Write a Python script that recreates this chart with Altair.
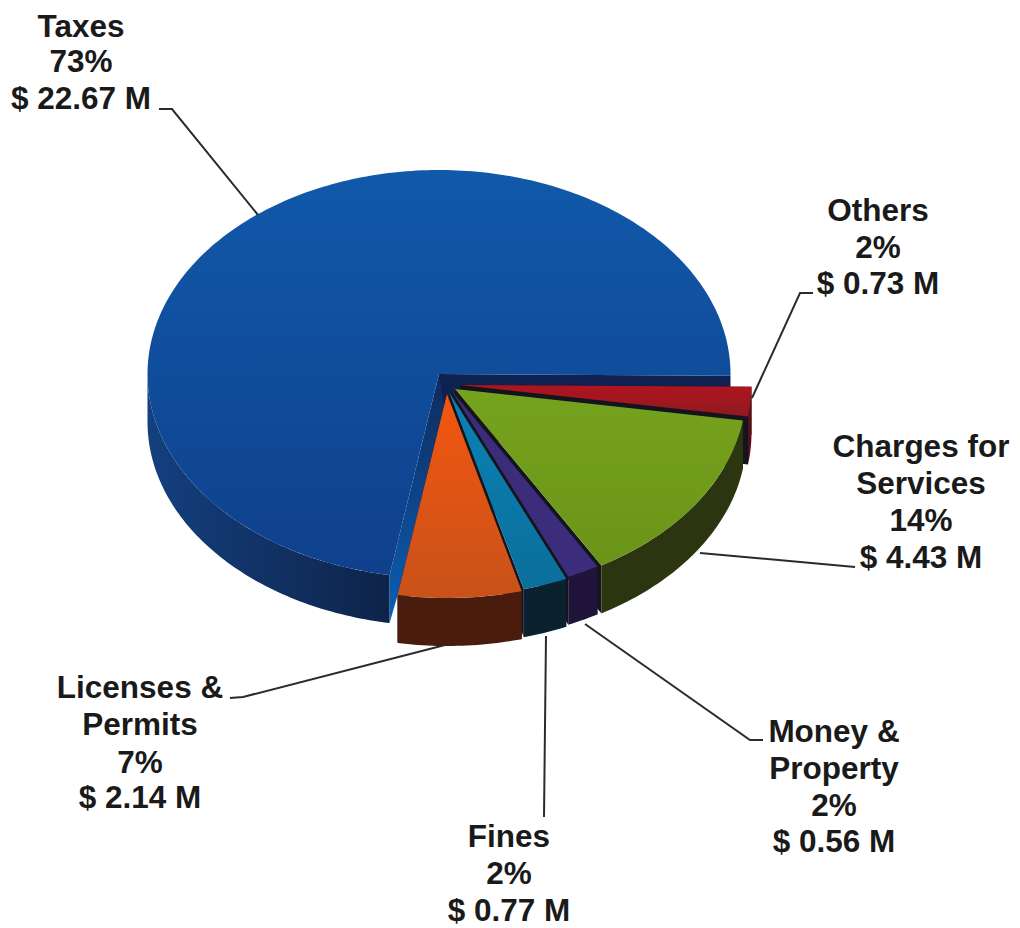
import math
import altair as alt
import pandas as pd

# ---- values ----
categories = ["Others", "Charges for Services", "Money & Property", "Fines", "Licenses & Permits", "Taxes"]
amounts = [0.73, 4.43, 0.56, 0.77, 2.14, 22.67]
percents = [2, 14, 2, 2, 7, 73]
name_lines = [["Others"], ["Charges for", "Services"], ["Money &", "Property"], ["Fines"], ["Licenses &", "Permits"], ["Taxes"]]

# ---- layout / style (not data) ----
RX, RY, DEPTH = 291.5, 204, 48
START = 0.5
centers = [(460, 385), (455, 389), (451, 390), (449, 392), (447, 394), (439, 374)]


def GRAD(a, b, v=True):
    return alt.LinearGradient(
        gradient="linear",
        stops=[alt.GradientStop(color=a, offset=0), alt.GradientStop(color=b, offset=1)],
        x1=0, y1=0, x2=0 if v else 1, y2=1 if v else 0)


top_fill = [GRAD("#b0141f", "#8f1a20"), GRAD("#76a31e", "#6a9418"), "#3c2c7c", GRAD("#0a82b4", "#0b6f9c"),
            GRAD("#f2560f", "#c9521a"), GRAD("#1159aa", "#0f408c")]
side_fill = ["#5a0f18", "#2b3510", "#20143a", "#0b2130", "#4a1c0e", GRAD("#14407f", "#0e2349", False)]
anchors = [(878, [221, 258, 294]), (921, [457, 494, 531, 568]), (834, [742, 779, 816, 852]),
           (509, [847, 884, 921]), (140, [698, 735, 773, 808]), (81, [36.6, 72, 109])]
leaders = [[(813, 293), (800, 293), (752, 398)], [(855, 567), (700, 553)],
           [(763, 740), (750, 740), (585, 624)], [(544, 817), (546, 636)],
           [(230, 698), (243, 697), (445, 645)], [(159, 109), (172, 109), (258, 215)]]


def pt(c, t, dy=0):
    a = math.radians(t)
    return [c[0] + RX * math.cos(a), c[1] + RY * math.sin(a) + dy]


def arc(c, t0, t1, dy=0):
    n = max(2, int(abs(t1 - t0)) + 1)
    return [pt(c, t0 + (t1 - t0) * i / n, dy) for i in range(n + 1)]


def feature(coords, kind="Polygon"):
    if kind == "Polygon":
        coords = [list(coords) + [list(coords[0])]]
    return {"type": "Feature", "properties": {}, "geometry": {"type": kind, "coordinates": coords}}


def shape(coords, fill):
    return alt.Chart(alt.Data(values=[feature(coords)])).mark_geoshape(fill=fill, strokeWidth=0)


def line(coords, color="#222222", width=2):
    return alt.Chart(alt.Data(values=[feature([list(p) for p in coords], "LineString")])).mark_geoshape(
        filled=False, stroke=color, strokeWidth=width)


def wall(c, t):
    return [list(c), pt(c, t), pt(c, t, DEPTH), [c[0], c[1] + DEPTH]]


total = sum(amounts)
spans = []
t = START
for v in amounts:
    spans.append((t, t + v / total * 360))
    t = spans[-1][1]

layers = []
# the large slice first: outer side, the two cut walls, top
b0, b1 = spans[5]
bc = centers[5]
layers.append(shape(arc(bc, b0, 180) + arc(bc, 180, b0, DEPTH), side_fill[5]))
layers.append(shape(wall(bc, b1), "#0f2150"))
layers.append(shape([list(bc), pt(bc, b0), pt(bc, b0, DEPTH), [centers[4][0], centers[4][1] + 31]],
                    GRAD("#0f2a5c", "#0b5fb4")))
layers.append(shape([list(bc)] + arc(bc, b0, b1), top_fill[5]))
# cut walls of the small slices show as dark gaps between them
for i in range(5):
    c, (s0, s1) = centers[i], spans[i]
    layers.append(shape(wall(c, s0), "#14141c"))
    layers.append(shape(wall(c, s1), "#14141c"))
# outer sides
for i in range(5):
    c, (s0, s1) = centers[i], spans[i]
    layers.append(shape(arc(c, s0, s1) + arc(c, s1, s0, DEPTH), side_fill[i]))
# tops
for i in range(5):
    c, (s0, s1) = centers[i], spans[i]
    layers.append(shape([list(c)] + arc(c, s0, s1), top_fill[i]))
# leaders
for l in leaders:
    layers.append(line(l, "#2b2b2b", 2))
# labels
rows = []
for i, (cx, ys) in enumerate(anchors):
    texts = name_lines[i] + [f"{percents[i]}%", f"$ {amounts[i]:.2f} M"]
    for y, s in zip(ys, texts):
        rows.append({"x": cx, "y": y, "t": s})
layers.append(alt.Chart(pd.DataFrame(rows)).mark_text(
    font="Liberation Sans", fontWeight="bold", fontSize=31.5, color="#1a1a1a", align="center", baseline="alphabetic"
).encode(longitude="x:Q", latitude="y:Q", text="t:N"))

chart = alt.layer(*layers).project(type="identity", scale=1, translate=[-8, -8]).properties(
    width=1004, height=920, padding=0, background="#ffffff"
).configure_view(stroke=None)
chart.save("out.html", embed_options={"renderer": "svg", "actions": False})
